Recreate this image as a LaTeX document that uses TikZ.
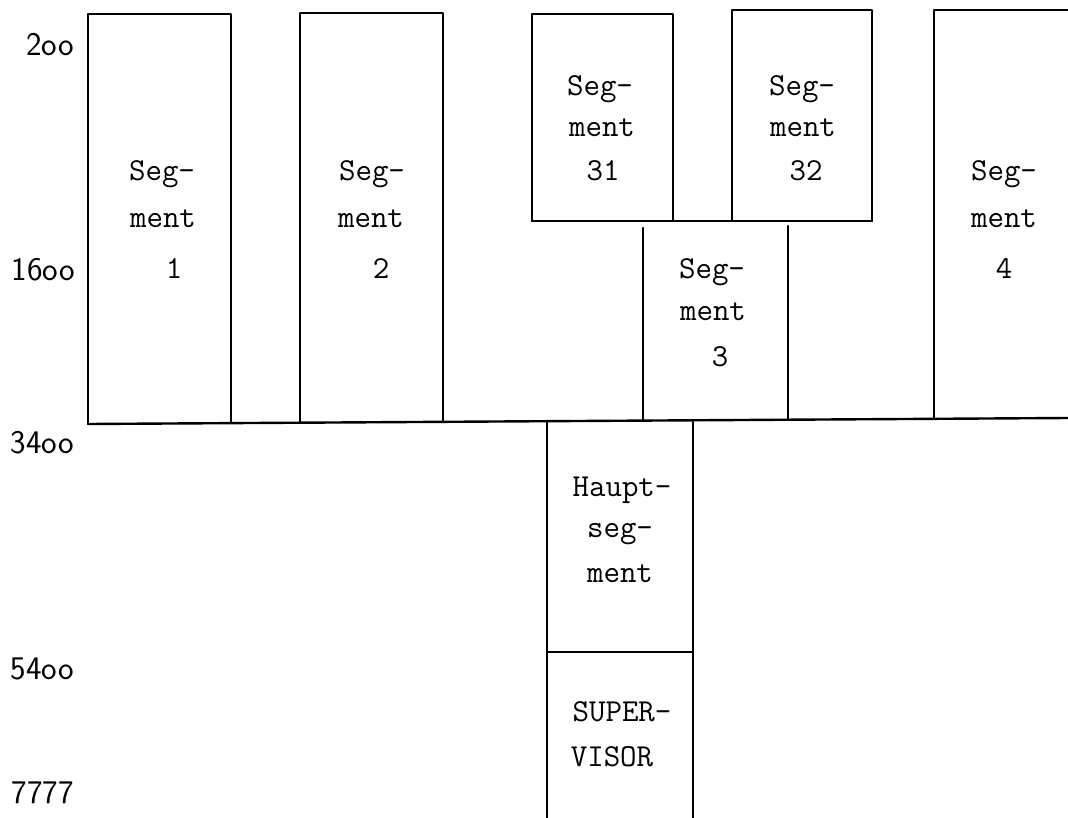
\documentclass[tikz,border=0pt]{standalone}
\usepackage{fontspec}
\begin{document}
\begin{tikzpicture}[x=1pt,y=-1pt,line width=2.4pt,line cap=round,line join=round,
  seg/.style={font=\fontsize{32}{38}\selectfont\ttfamily\addfontfeature{FakeBold=1.2},inner sep=0pt,anchor=base},
  addr/.style={font=\fontsize{33}{38}\selectfont\sffamily,inner sep=0pt,anchor=base east}]
\useasboundingbox (0,0) rectangle (1068,818);
% address labels
\node[addr] (a200)  at (75,56)  {2oo};
\node[addr] (a1600) at (76,281) {16oo};
\node[addr] (a3400) at (75,453) {34oo};
\node[addr] (a5400) at (75,679) {54oo};
\node[addr] (a7777) at (75,803) {7777};
% common base line
\draw (88,424) -- (1068,418);
% Segment 1
\draw (88,424) -- (88,14) -- (231,14) -- (231,423);
\node[seg] (s1a) at (162,181) {Seg-};
\node[seg] (s1b) at (163,228) {ment};
\node[seg] (s1c) at (174,279) {1};
% Segment 2
\draw (300,423) -- (300,13) -- (443,13) -- (443,422);
\node[seg] (s2a) at (372,181) {Seg-};
\node[seg] (s2b) at (371,228) {ment};
\node[seg] (s2c) at (381,279) {2};
% Segment 31
\draw (532,221) -- (532,14) -- (673,14) -- (673,221);
\node[seg] (s31a) at (600,96)  {Seg-};
\node[seg] (s31b) at (602,137) {ment};
\node[seg] (s31c) at (603,181) {31};
% Segment 32
\draw (732,221) -- (732,10) -- (872,10) -- (872,221);
\node[seg] (s32a) at (802,96)  {Seg-};
\node[seg] (s32b) at (803,137) {ment};
\node[seg] (s32c) at (806,181) {32};
\draw (532,221) -- (872,221);
% Segment 3
\draw (643,228) -- (643,421);
\draw (788,226) -- (788,420);
\node[seg] (s3a) at (712,279) {Seg-};
\node[seg] (s3b) at (713,320) {ment};
\node[seg] (s3c) at (720,366) {3};
% Segment 4
\draw (1068,10) -- (934,10) -- (934,418);
\node[seg] (s4a) at (1004,181) {Seg-};
\node[seg] (s4b) at (1004,228) {ment};
\node[seg] (s4c) at (1004,279) {4};
% Hauptsegment and supervisor
\draw (547,818) -- (547,422);
\draw (693,422) -- (693,818);
\draw (547,652) -- (693,652);
\node[seg] (ha) at (622,496) {Haupt-};
\node[seg] (hb) at (620,537) {seg-};
\node[seg] (hc) at (620,582) {ment};
\node[seg] (sva) at (622,721) {SUPER-};
\node[seg] (svb) at (612,766) {VISOR};
\end{tikzpicture}
\end{document}
